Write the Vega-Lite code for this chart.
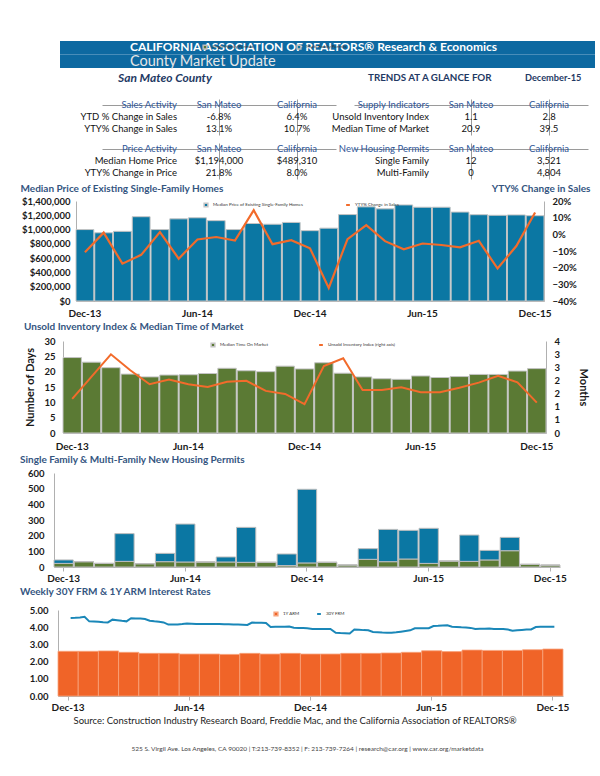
{
  "$schema": "https://vega.github.io/schema/vega-lite/v6.json",
  "padding": {"left": 20, "top": 40, "right": 0, "bottom": 0},
  "background": "white",
  "title": {"text": "525 S. Virgil Ave. Los Angeles, CA 90020 | T:213-739-8352 | F: 213-739-7264 | research@car.org | www.car.org/marketdata", "orient": "bottom", "anchor": "middle", "fontSize": 6.5, "fontWeight": "normal", "color": "#444", "offset": 21},
  "config": {
    "font": "Lato",
    "view": {"stroke": null},
    "axis": {"labelFontSize": 9.5, "labelFontWeight": "bold", "labelColor": "#1a1a1a", "domainColor": "#b0b0b0", "tickColor": "#b0b0b0", "grid": false, "ticks": false, "labelOverlap": false},
    "axisX": {"labelAngle": 0},
    "legend": {"labelFontSize": 4.5, "labelColor": "#333", "symbolSize": 14, "title": null}
  },
  "datasets": {
    "header": [
      {"line": "org", "item": "org", "text": "CALIFORNIA ASSOCIATION OF REALTORS® Research & Economics"},
      {"line": "product", "item": "product", "text": "County Market Update"},
      {"line": "sub", "item": "county", "text": "San Mateo  County"},
      {"line": "sub", "item": "trends", "text": "TRENDS AT A GLANCE FOR"},
      {"line": "sub", "item": "date", "text": "December-15"}
    ],
    "tables": [
      {"table": "sales", "row": "h", "col": "label", "text": "Sales Activity"},
      {"table": "sales", "row": "h", "col": "San Mateo", "text": "San Mateo"},
      {"table": "sales", "row": "h", "col": "California", "text": "California"},
      {"table": "sales", "row": "r1", "col": "label", "text": "YTD % Change in Sales"},
      {"table": "sales", "row": "r1", "col": "San Mateo", "text": "-6.8%"},
      {"table": "sales", "row": "r1", "col": "California", "text": "6.4%"},
      {"table": "sales", "row": "r2", "col": "label", "text": "YTY% Change in Sales"},
      {"table": "sales", "row": "r2", "col": "San Mateo", "text": "13.1%"},
      {"table": "sales", "row": "r2", "col": "California", "text": "10.7%"},
      {"table": "price", "row": "h", "col": "label", "text": "Price Activity"},
      {"table": "price", "row": "h", "col": "San Mateo", "text": "San Mateo"},
      {"table": "price", "row": "h", "col": "California", "text": "California"},
      {"table": "price", "row": "r1", "col": "label", "text": "Median Home Price"},
      {"table": "price", "row": "r1", "col": "San Mateo", "text": "$1,194,000"},
      {"table": "price", "row": "r1", "col": "California", "text": "$489,310"},
      {"table": "price", "row": "r2", "col": "label", "text": "YTY% Change in Price"},
      {"table": "price", "row": "r2", "col": "San Mateo", "text": "21.8%"},
      {"table": "price", "row": "r2", "col": "California", "text": "8.0%"},
      {"table": "supply", "row": "h", "col": "label", "text": "Supply Indicators"},
      {"table": "supply", "row": "h", "col": "San Mateo", "text": "San Mateo"},
      {"table": "supply", "row": "h", "col": "California", "text": "California"},
      {"table": "supply", "row": "r1", "col": "label", "text": "Unsold Inventory Index"},
      {"table": "supply", "row": "r1", "col": "San Mateo", "text": "1.1"},
      {"table": "supply", "row": "r1", "col": "California", "text": "2.8"},
      {"table": "supply", "row": "r2", "col": "label", "text": "Median Time of Market"},
      {"table": "supply", "row": "r2", "col": "San Mateo", "text": "20.9"},
      {"table": "supply", "row": "r2", "col": "California", "text": "39.5"},
      {"table": "permits", "row": "h", "col": "label", "text": "New Housing Permits"},
      {"table": "permits", "row": "h", "col": "San Mateo", "text": "San Mateo"},
      {"table": "permits", "row": "h", "col": "California", "text": "California"},
      {"table": "permits", "row": "r1", "col": "label", "text": "Single Family"},
      {"table": "permits", "row": "r1", "col": "San Mateo", "text": "12"},
      {"table": "permits", "row": "r1", "col": "California", "text": "3,521"},
      {"table": "permits", "row": "r2", "col": "label", "text": "Multi-Family"},
      {"table": "permits", "row": "r2", "col": "San Mateo", "text": "0"},
      {"table": "permits", "row": "r2", "col": "California", "text": "4,804"}
    ],
    "price": [
      {"month": "Dec-13", "price": 1000000, "yty": -0.107},
      {"month": "Jan-14", "price": 955000, "yty": 0.01},
      {"month": "Feb-14", "price": 975000, "yty": -0.176},
      {"month": "Mar-14", "price": 1180000, "yty": -0.123},
      {"month": "Apr-14", "price": 1000000, "yty": 0.014},
      {"month": "May-14", "price": 1150000, "yty": -0.146},
      {"month": "Jun-14", "price": 1165000, "yty": -0.031},
      {"month": "Jul-14", "price": 1125000, "yty": -0.016},
      {"month": "Aug-14", "price": 1000000, "yty": -0.037},
      {"month": "Sep-14", "price": 1085000, "yty": 0.145},
      {"month": "Oct-14", "price": 1075000, "yty": -0.059},
      {"month": "Nov-14", "price": 1100000, "yty": -0.035},
      {"month": "Dec-14", "price": 985000, "yty": -0.084},
      {"month": "Jan-15", "price": 1020000, "yty": -0.322},
      {"month": "Feb-15", "price": 1210000, "yty": -0.029},
      {"month": "Mar-15", "price": 1318000, "yty": 0.055},
      {"month": "Apr-15", "price": 1290000, "yty": -0.041},
      {"month": "May-15", "price": 1345000, "yty": -0.09},
      {"month": "Jun-15", "price": 1313000, "yty": -0.055},
      {"month": "Jul-15", "price": 1313000, "yty": -0.064},
      {"month": "Aug-15", "price": 1245000, "yty": -0.078},
      {"month": "Sep-15", "price": 1208000, "yty": -0.039},
      {"month": "Oct-15", "price": 1200000, "yty": -0.205},
      {"month": "Nov-15", "price": 1205000, "yty": -0.07},
      {"month": "Dec-15", "price": 1194000, "yty": 0.131}
    ],
    "market": [
      {"month": "Dec-13", "days": 24.6, "uii": 1.48},
      {"month": "Jan-14", "days": 23.1, "uii": 2.45},
      {"month": "Feb-14", "days": 21.3, "uii": 3.42},
      {"month": "Mar-14", "days": 19.2, "uii": 2.73},
      {"month": "Apr-14", "days": 18.3, "uii": 2.12},
      {"month": "May-14", "days": 18.9, "uii": 2.33},
      {"month": "Jun-14", "days": 19.0, "uii": 2.12},
      {"month": "Jul-14", "days": 19.4, "uii": 2.0},
      {"month": "Aug-14", "days": 21.1, "uii": 2.23},
      {"month": "Sep-14", "days": 20.3, "uii": 2.27},
      {"month": "Oct-14", "days": 20.0, "uii": 1.83},
      {"month": "Nov-14", "days": 21.8, "uii": 1.7},
      {"month": "Dec-14", "days": 20.9, "uii": 1.25},
      {"month": "Jan-15", "days": 22.9, "uii": 2.91},
      {"month": "Feb-15", "days": 19.5, "uii": 3.25},
      {"month": "Mar-15", "days": 18.3, "uii": 1.87},
      {"month": "Apr-15", "days": 17.7, "uii": 1.87},
      {"month": "May-15", "days": 17.5, "uii": 1.99},
      {"month": "Jun-15", "days": 18.6, "uii": 1.77},
      {"month": "Jul-15", "days": 18.1, "uii": 1.77},
      {"month": "Aug-15", "days": 18.4, "uii": 1.97},
      {"month": "Sep-15", "days": 19.1, "uii": 2.19},
      {"month": "Oct-15", "days": 19.1, "uii": 2.49},
      {"month": "Nov-15", "days": 20.2, "uii": 2.2},
      {"month": "Dec-15", "days": 21.0, "uii": 1.32}
    ],
    "permits": [
      {"month": "Dec-13", "type": "Single Family Permits", "permits": 23}, {"month": "Dec-13", "type": "Multi-Family Permits", "permits": 22},
      {"month": "Jan-14", "type": "Single Family Permits", "permits": 34}, {"month": "Jan-14", "type": "Multi-Family Permits", "permits": 0},
      {"month": "Feb-14", "type": "Single Family Permits", "permits": 23}, {"month": "Feb-14", "type": "Multi-Family Permits", "permits": 0},
      {"month": "Mar-14", "type": "Single Family Permits", "permits": 36}, {"month": "Mar-14", "type": "Multi-Family Permits", "permits": 177},
      {"month": "Apr-14", "type": "Single Family Permits", "permits": 21}, {"month": "Apr-14", "type": "Multi-Family Permits", "permits": 0},
      {"month": "May-14", "type": "Single Family Permits", "permits": 34}, {"month": "May-14", "type": "Multi-Family Permits", "permits": 53},
      {"month": "Jun-14", "type": "Single Family Permits", "permits": 32}, {"month": "Jun-14", "type": "Multi-Family Permits", "permits": 242},
      {"month": "Jul-14", "type": "Single Family Permits", "permits": 32}, {"month": "Jul-14", "type": "Multi-Family Permits", "permits": 0},
      {"month": "Aug-14", "type": "Single Family Permits", "permits": 32}, {"month": "Aug-14", "type": "Multi-Family Permits", "permits": 32},
      {"month": "Sep-14", "type": "Single Family Permits", "permits": 30}, {"month": "Sep-14", "type": "Multi-Family Permits", "permits": 223},
      {"month": "Oct-14", "type": "Single Family Permits", "permits": 30}, {"month": "Oct-14", "type": "Multi-Family Permits", "permits": 0},
      {"month": "Nov-14", "type": "Single Family Permits", "permits": 9}, {"month": "Nov-14", "type": "Multi-Family Permits", "permits": 74},
      {"month": "Dec-14", "type": "Single Family Permits", "permits": 26}, {"month": "Dec-14", "type": "Multi-Family Permits", "permits": 470},
      {"month": "Jan-15", "type": "Single Family Permits", "permits": 30}, {"month": "Jan-15", "type": "Multi-Family Permits", "permits": 0},
      {"month": "Feb-15", "type": "Single Family Permits", "permits": 13}, {"month": "Feb-15", "type": "Multi-Family Permits", "permits": 0},
      {"month": "Mar-15", "type": "Single Family Permits", "permits": 49}, {"month": "Mar-15", "type": "Multi-Family Permits", "permits": 68},
      {"month": "Apr-15", "type": "Single Family Permits", "permits": 34}, {"month": "Apr-15", "type": "Multi-Family Permits", "permits": 206},
      {"month": "May-15", "type": "Single Family Permits", "permits": 51}, {"month": "May-15", "type": "Multi-Family Permits", "permits": 183},
      {"month": "Jun-15", "type": "Single Family Permits", "permits": 23}, {"month": "Jun-15", "type": "Multi-Family Permits", "permits": 224},
      {"month": "Jul-15", "type": "Single Family Permits", "permits": 38}, {"month": "Jul-15", "type": "Multi-Family Permits", "permits": 0},
      {"month": "Aug-15", "type": "Single Family Permits", "permits": 36}, {"month": "Aug-15", "type": "Multi-Family Permits", "permits": 168},
      {"month": "Sep-15", "type": "Single Family Permits", "permits": 45}, {"month": "Sep-15", "type": "Multi-Family Permits", "permits": 61},
      {"month": "Oct-15", "type": "Single Family Permits", "permits": 104}, {"month": "Oct-15", "type": "Multi-Family Permits", "permits": 85},
      {"month": "Nov-15", "type": "Single Family Permits", "permits": 17}, {"month": "Nov-15", "type": "Multi-Family Permits", "permits": 0},
      {"month": "Dec-15", "type": "Single Family Permits", "permits": 12}, {"month": "Dec-15", "type": "Multi-Family Permits", "permits": 0}
    ],
    "arm": [
      {"month": "Dec-13", "arm": 2.60}, {"month": "Jan-14", "arm": 2.60}, {"month": "Feb-14", "arm": 2.62},
      {"month": "Mar-14", "arm": 2.54}, {"month": "Apr-14", "arm": 2.48}, {"month": "May-14", "arm": 2.48},
      {"month": "Jun-14", "arm": 2.44}, {"month": "Jul-14", "arm": 2.44}, {"month": "Aug-14", "arm": 2.42},
      {"month": "Sep-14", "arm": 2.48}, {"month": "Oct-14", "arm": 2.44}, {"month": "Nov-14", "arm": 2.48},
      {"month": "Dec-14", "arm": 2.44}, {"month": "Jan-15", "arm": 2.44}, {"month": "Feb-15", "arm": 2.48},
      {"month": "Mar-15", "arm": 2.48}, {"month": "Apr-15", "arm": 2.50}, {"month": "May-15", "arm": 2.54},
      {"month": "Jun-15", "arm": 2.63}, {"month": "Jul-15", "arm": 2.58}, {"month": "Aug-15", "arm": 2.67},
      {"month": "Sep-15", "arm": 2.65}, {"month": "Oct-15", "arm": 2.65}, {"month": "Nov-15", "arm": 2.69},
      {"month": "Dec-15", "arm": 2.73}
    ],
    "frm": [
      {"date": "2013-12-05", "frm": 4.54}, {"date": "2013-12-12", "frm": 4.55}, {"date": "2013-12-19", "frm": 4.57}, {"date": "2013-12-26", "frm": 4.60},
      {"date": "2014-01-02", "frm": 4.34}, {"date": "2014-01-09", "frm": 4.33}, {"date": "2014-01-16", "frm": 4.31}, {"date": "2014-01-23", "frm": 4.29}, {"date": "2014-01-30", "frm": 4.28},
      {"date": "2014-02-06", "frm": 4.44}, {"date": "2014-02-13", "frm": 4.41}, {"date": "2014-02-20", "frm": 4.37}, {"date": "2014-02-27", "frm": 4.34},
      {"date": "2014-03-06", "frm": 4.52}, {"date": "2014-03-13", "frm": 4.51}, {"date": "2014-03-20", "frm": 4.50}, {"date": "2014-03-27", "frm": 4.48},
      {"date": "2014-04-03", "frm": 4.38}, {"date": "2014-04-10", "frm": 4.34}, {"date": "2014-04-17", "frm": 4.31}, {"date": "2014-04-24", "frm": 4.28},
      {"date": "2014-05-01", "frm": 4.15}, {"date": "2014-05-08", "frm": 4.15}, {"date": "2014-05-15", "frm": 4.16}, {"date": "2014-05-22", "frm": 4.18}, {"date": "2014-05-29", "frm": 4.21},
      {"date": "2014-06-05", "frm": 4.20}, {"date": "2014-06-12", "frm": 4.19}, {"date": "2014-06-19", "frm": 4.19}, {"date": "2014-06-26", "frm": 4.19},
      {"date": "2014-07-03", "frm": 4.19}, {"date": "2014-07-10", "frm": 4.18}, {"date": "2014-07-17", "frm": 4.18}, {"date": "2014-07-24", "frm": 4.17}, {"date": "2014-07-31", "frm": 4.17},
      {"date": "2014-08-07", "frm": 4.16}, {"date": "2014-08-14", "frm": 4.15}, {"date": "2014-08-21", "frm": 4.14}, {"date": "2014-08-28", "frm": 4.13},
      {"date": "2014-09-04", "frm": 4.27}, {"date": "2014-09-11", "frm": 4.26}, {"date": "2014-09-18", "frm": 4.26}, {"date": "2014-09-25", "frm": 4.25},
      {"date": "2014-10-02", "frm": 4.01}, {"date": "2014-10-09", "frm": 4.02}, {"date": "2014-10-16", "frm": 4.02}, {"date": "2014-10-23", "frm": 4.03}, {"date": "2014-10-30", "frm": 4.04},
      {"date": "2014-11-06", "frm": 3.97}, {"date": "2014-11-13", "frm": 3.96}, {"date": "2014-11-20", "frm": 3.95}, {"date": "2014-11-26", "frm": 3.94},
      {"date": "2014-12-04", "frm": 3.90}, {"date": "2014-12-11", "frm": 3.90}, {"date": "2014-12-18", "frm": 3.90}, {"date": "2014-12-24", "frm": 3.90}, {"date": "2014-12-31", "frm": 3.90},
      {"date": "2015-01-08", "frm": 3.68}, {"date": "2015-01-15", "frm": 3.66}, {"date": "2015-01-22", "frm": 3.65}, {"date": "2015-01-29", "frm": 3.63},
      {"date": "2015-02-05", "frm": 3.86}, {"date": "2015-02-12", "frm": 3.85}, {"date": "2015-02-19", "frm": 3.83}, {"date": "2015-02-26", "frm": 3.82},
      {"date": "2015-03-05", "frm": 3.72}, {"date": "2015-03-12", "frm": 3.71}, {"date": "2015-03-19", "frm": 3.69}, {"date": "2015-03-26", "frm": 3.68},
      {"date": "2015-04-02", "frm": 3.68}, {"date": "2015-04-09", "frm": 3.70}, {"date": "2015-04-16", "frm": 3.74}, {"date": "2015-04-23", "frm": 3.78}, {"date": "2015-04-30", "frm": 3.82},
      {"date": "2015-05-07", "frm": 3.94}, {"date": "2015-05-14", "frm": 3.94}, {"date": "2015-05-21", "frm": 3.94}, {"date": "2015-05-28", "frm": 3.94},
      {"date": "2015-06-04", "frm": 4.07}, {"date": "2015-06-11", "frm": 4.08}, {"date": "2015-06-18", "frm": 4.10}, {"date": "2015-06-25", "frm": 4.11},
      {"date": "2015-07-02", "frm": 4.03}, {"date": "2015-07-09", "frm": 4.01}, {"date": "2015-07-16", "frm": 3.99}, {"date": "2015-07-23", "frm": 3.98}, {"date": "2015-07-30", "frm": 3.96},
      {"date": "2015-08-06", "frm": 3.90}, {"date": "2015-08-13", "frm": 3.91}, {"date": "2015-08-20", "frm": 3.91}, {"date": "2015-08-27", "frm": 3.92},
      {"date": "2015-09-03", "frm": 3.90}, {"date": "2015-09-10", "frm": 3.90}, {"date": "2015-09-17", "frm": 3.90}, {"date": "2015-09-24", "frm": 3.86},
      {"date": "2015-10-01", "frm": 3.80}, {"date": "2015-10-08", "frm": 3.82}, {"date": "2015-10-15", "frm": 3.84}, {"date": "2015-10-22", "frm": 3.86}, {"date": "2015-10-29", "frm": 3.87},
      {"date": "2015-11-05", "frm": 4.01}, {"date": "2015-11-12", "frm": 4.02}, {"date": "2015-11-19", "frm": 4.02}, {"date": "2015-11-25", "frm": 4.03},
      {"date": "2015-12-03", "frm": 4.03}
    ]
  },
  "spacing": 4,
  "vconcat": [
    {
      "bounds": "flush",
      "spacing": 0,
      "hconcat": [
        {"width": 40, "height": 1, "data": {"values": [{}]}, "mark": {"type": "rect", "opacity": 0}},
        {
          "width": 535,
          "height": 54,
          "data": {"name": "header"},
          "encoding": {
            "y": {"field": "line", "type": "nominal", "scale": {"domain": ["org", "product", "sub", "blank"], "paddingInner": 0, "paddingOuter": 0}, "axis": null}
          },
          "layer": [
            {"transform": [{"filter": "datum.line === 'org' || datum.line === 'product'"}], "mark": {"type": "rect", "color": "#0d69a1"}},
            {"transform": [{"filter": "datum.item === 'org'"}], "mark": {"type": "text", "align": "left", "dx": -197.5, "dy": -1, "color": "white", "fontSize": 12, "fontWeight": "bold"}, "encoding": {"text": {"field": "text"}}},
            {"transform": [{"filter": "datum.item === 'product'"}], "mark": {"type": "text", "align": "left", "dx": -197.5, "dy": 1.2, "color": "#e6e6e6", "fontSize": 14.5}, "encoding": {"text": {"field": "text"}}},
            {"transform": [{"filter": "datum.item === 'county'"}], "mark": {"type": "text", "align": "left", "dx": -209.5, "dy": 3, "color": "#1f3a64", "fontSize": 12, "fontWeight": "bold", "fontStyle": "italic"}, "encoding": {"text": {"field": "text"}}},
            {"transform": [{"filter": "datum.item === 'trends'"}], "mark": {"type": "text", "align": "left", "dx": 40.5, "dy": 3, "color": "#1f3a64", "fontSize": 9.8, "fontWeight": "bold"}, "encoding": {"text": {"field": "text"}}},
            {"transform": [{"filter": "datum.item === 'date'"}], "mark": {"type": "text", "align": "left", "dx": 197.5, "dy": 3, "color": "#1f3a64", "fontSize": 9.2, "fontWeight": "bold"}, "encoding": {"text": {"field": "text"}}}
          ]
        }
      ]
    },
    {
      "bounds": "flush",
      "spacing": 0,
      "hconcat": [
        {"width": 82, "height": 1, "data": {"values": [{}]}, "mark": {"type": "rect", "opacity": 0}},
        {
          "spacing": 8,
          "vconcat": [
            {
              "bounds": "flush",
              "spacing": 18,
              "hconcat": [
                {
                  "width": 234, "height": 36,
                  "data": {"name": "tables"},
                  "transform": [{"filter": "datum.table === 'sales'"}],
                  "encoding": {
                    "x": {"field": "col", "type": "nominal", "scale": {"domain": ["label", "San Mateo", "California"], "paddingInner": 0, "paddingOuter": 0}, "axis": {"values": ["San Mateo", "California"], "bandPosition": 0, "grid": true, "gridColor": "#9a9a9a", "labels": false, "ticks": false, "domain": false, "title": null}},
                    "y": {"field": "row", "type": "nominal", "scale": {"domain": ["h", "r1", "r2"], "paddingInner": 0, "paddingOuter": 0}, "axis": {"values": ["h"], "bandPosition": 1, "grid": true, "gridColor": "#9a9a9a", "labels": false, "ticks": false, "domain": false, "title": null, "minExtent": 0, "maxExtent": 0}},
                    "text": {"field": "text"},
                    "color": {"condition": {"test": "datum.row === 'h'", "value": "#2e5597"}, "value": "#111111"}
                  },
                  "layer": [
                    {"transform": [{"filter": "datum.col === 'label'"}], "mark": {"type": "text", "align": "right", "dx": 36, "fontSize": 9.5}},
                    {"transform": [{"filter": "datum.col !== 'label'"}], "mark": {"type": "text", "align": "center", "fontSize": 9.5}}
                  ]
                },
                {
                  "width": 234, "height": 36,
                  "data": {"name": "tables"},
                  "transform": [{"filter": "datum.table === 'supply'"}],
                  "encoding": {
                    "x": {"field": "col", "type": "nominal", "scale": {"domain": ["label", "San Mateo", "California"], "paddingInner": 0, "paddingOuter": 0}, "axis": {"values": ["San Mateo", "California"], "bandPosition": 0, "grid": true, "gridColor": "#9a9a9a", "labels": false, "ticks": false, "domain": false, "title": null}},
                    "y": {"field": "row", "type": "nominal", "scale": {"domain": ["h", "r1", "r2"], "paddingInner": 0, "paddingOuter": 0}, "axis": {"values": ["h"], "bandPosition": 1, "grid": true, "gridColor": "#9a9a9a", "labels": false, "ticks": false, "domain": false, "title": null, "minExtent": 0, "maxExtent": 0}},
                    "text": {"field": "text"},
                    "color": {"condition": {"test": "datum.row === 'h'", "value": "#2e5597"}, "value": "#111111"}
                  },
                  "layer": [
                    {"transform": [{"filter": "datum.col === 'label'"}], "mark": {"type": "text", "align": "right", "dx": 36, "fontSize": 9.5}},
                    {"transform": [{"filter": "datum.col !== 'label'"}], "mark": {"type": "text", "align": "center", "fontSize": 9.5}}
                  ]
                }
              ]
            },
            {
              "bounds": "flush",
              "spacing": 18,
              "hconcat": [
                {
                  "width": 234, "height": 36,
                  "data": {"name": "tables"},
                  "transform": [{"filter": "datum.table === 'price'"}],
                  "encoding": {
                    "x": {"field": "col", "type": "nominal", "scale": {"domain": ["label", "San Mateo", "California"], "paddingInner": 0, "paddingOuter": 0}, "axis": {"values": ["San Mateo", "California"], "bandPosition": 0, "grid": true, "gridColor": "#9a9a9a", "labels": false, "ticks": false, "domain": false, "title": null}},
                    "y": {"field": "row", "type": "nominal", "scale": {"domain": ["h", "r1", "r2"], "paddingInner": 0, "paddingOuter": 0}, "axis": {"values": ["h"], "bandPosition": 1, "grid": true, "gridColor": "#9a9a9a", "labels": false, "ticks": false, "domain": false, "title": null, "minExtent": 0, "maxExtent": 0}},
                    "text": {"field": "text"},
                    "color": {"condition": {"test": "datum.row === 'h'", "value": "#2e5597"}, "value": "#111111"}
                  },
                  "layer": [
                    {"transform": [{"filter": "datum.col === 'label'"}], "mark": {"type": "text", "align": "right", "dx": 36, "fontSize": 9.5}},
                    {"transform": [{"filter": "datum.col !== 'label'"}], "mark": {"type": "text", "align": "center", "fontSize": 9.5}}
                  ]
                },
                {
                  "width": 234, "height": 36,
                  "data": {"name": "tables"},
                  "transform": [{"filter": "datum.table === 'permits'"}],
                  "encoding": {
                    "x": {"field": "col", "type": "nominal", "scale": {"domain": ["label", "San Mateo", "California"], "paddingInner": 0, "paddingOuter": 0}, "axis": {"values": ["San Mateo", "California"], "bandPosition": 0, "grid": true, "gridColor": "#9a9a9a", "labels": false, "ticks": false, "domain": false, "title": null}},
                    "y": {"field": "row", "type": "nominal", "scale": {"domain": ["h", "r1", "r2"], "paddingInner": 0, "paddingOuter": 0}, "axis": {"values": ["h"], "bandPosition": 1, "grid": true, "gridColor": "#9a9a9a", "labels": false, "ticks": false, "domain": false, "title": null, "minExtent": 0, "maxExtent": 0}},
                    "text": {"field": "text"},
                    "color": {"condition": {"test": "datum.row === 'h'", "value": "#2e5597"}, "value": "#111111"}
                  },
                  "layer": [
                    {"transform": [{"filter": "datum.col === 'label'"}], "mark": {"type": "text", "align": "right", "dx": 36, "fontSize": 9.5}},
                    {"transform": [{"filter": "datum.col !== 'label'"}], "mark": {"type": "text", "align": "center", "fontSize": 9.5}}
                  ]
                }
              ]
            }
          ]
        }
      ]
    },
    {
      "bounds": "flush",
      "spacing": 0,
      "hconcat": [
        {"width": 56, "height": 1, "data": {"values": [{}]}, "mark": {"type": "rect", "opacity": 0}},
        {
          "width": 468,
          "height": 100,
          "data": {"name": "price"},
          "encoding": {
            "x": {"field": "month", "type": "nominal", "scale": {"domain": ["Dec-13","Jan-14","Feb-14","Mar-14","Apr-14","May-14","Jun-14","Jul-14","Aug-14","Sep-14","Oct-14","Nov-14","Dec-14","Jan-15","Feb-15","Mar-15","Apr-15","May-15","Jun-15","Jul-15","Aug-15","Sep-15","Oct-15","Nov-15","Dec-15"], "paddingInner": 0.05, "paddingOuter": 0}, "axis": {"values": ["Dec-13","Jun-14","Dec-14","Jun-15","Dec-15"], "title": null, "ticks": false, "labelPadding": 7, "labelFontSize": 10}}
          },
          "layer": [
            {
              "mark": {"type": "bar", "stroke": "#c4c4c4", "strokeWidth": 1},
              "encoding": {
                "y": {"field": "price", "type": "quantitative", "scale": {"domain": [0, 1400000]}, "axis": {"values": [0, 200000, 400000, 600000, 800000, 1000000, 1200000, 1400000], "format": "$,.0f", "labelPadding": 6, "minExtent": 56, "maxExtent": 56, "title": "Median Price of Existing Single-Family Homes", "titleX": -56, "titleY": -13, "titleAngle": 0, "titleAlign": "left", "titleBaseline": "middle", "titleFontSize": 10, "titleFontWeight": "bold", "titleColor": "#34557f"}},
                "fill": {"datum": "Median Price of Existing Single-Family Homes", "type": "nominal", "scale": {"range": ["#0b77a3"]}, "legend": {"orient": "none", "legendX": 127, "legendY": 1, "symbolType": "square"}}
              }
            },
            {
              "mark": {"type": "line", "strokeWidth": 2.2},
              "encoding": {
                "y": {"field": "yty", "type": "quantitative", "scale": {"domain": [-0.4, 0.2]}, "axis": {"orient": "right", "values": [-0.4, -0.3, -0.2, -0.1, 0, 0.1, 0.2], "format": ".0%", "labelPadding": 8, "title": "YTY% Change in Sales", "titleX": 46, "titleY": -13, "titleAngle": 0, "titleAlign": "right", "titleBaseline": "middle", "titleFontSize": 10, "titleFontWeight": "bold", "titleColor": "#34557f"}},
                "stroke": {"datum": "YTY% Change in Sales", "type": "nominal", "scale": {"range": ["#f26b2b"]}, "legend": {"orient": "none", "legendX": 269, "legendY": 1, "symbolType": "stroke", "symbolStrokeWidth": 2}}
              }
            }
          ],
          "resolve": {"scale": {"y": "independent", "fill": "independent", "stroke": "independent"}}
        }
      ]
    },
    {
      "bounds": "flush",
      "spacing": 0,
      "hconcat": [
        {"width": 43, "height": 1, "data": {"values": [{}]}, "mark": {"type": "rect", "opacity": 0}},
        {
          "width": 483,
          "height": 92,
          "title": {"text": "Unsold Inventory Index & Median Time of Market", "anchor": "start", "fontSize": 10, "fontWeight": "bold", "color": "#34557f", "offset": 4},
          "data": {"name": "market"},
          "encoding": {
            "x": {"field": "month", "type": "nominal", "scale": {"domain": ["Dec-13","Jan-14","Feb-14","Mar-14","Apr-14","May-14","Jun-14","Jul-14","Aug-14","Sep-14","Oct-14","Nov-14","Dec-14","Jan-15","Feb-15","Mar-15","Apr-15","May-15","Jun-15","Jul-15","Aug-15","Sep-15","Oct-15","Nov-15","Dec-15"], "paddingInner": 0.05, "paddingOuter": 0}, "axis": {"values": ["Dec-13","Jun-14","Dec-14","Jun-15","Dec-15"], "title": null, "ticks": false, "labelPadding": 8, "labelFontSize": 10}}
          },
          "layer": [
            {
              "mark": {"type": "bar", "stroke": "#c4c4c4", "strokeWidth": 1},
              "encoding": {
                "y": {"field": "days", "type": "quantitative", "scale": {"domain": [0, 30]}, "axis": {"values": [0, 5, 10, 15, 20, 25, 30], "labelPadding": 8, "minExtent": 22, "maxExtent": 22, "title": "Number of Days", "titleFontSize": 11, "titleFontWeight": "bold", "titleColor": "#1a1a1a", "titlePadding": 6}},
                "fill": {"datum": "Median Time On Market", "type": "nominal", "scale": {"range": ["#5b7a34"]}, "legend": {"orient": "none", "legendX": 147, "legendY": 1, "symbolType": "square"}}
              }
            },
            {
              "mark": {"type": "line", "strokeWidth": 2},
              "encoding": {
                "y": {"field": "uii", "type": "quantitative", "scale": {"domain": [0, 4]}, "axis": {"orient": "right", "values": [0, 0.5714, 1.1429, 1.7143, 2.2857, 2.8571, 3.4286, 4], "format": ".0f", "labelPadding": 8, "title": "Months", "titleFontSize": 11, "titleFontWeight": "bold", "titleColor": "#1a1a1a", "titlePadding": 18}},
                "stroke": {"datum": "Unsold Inventory Index (right axis)", "type": "nominal", "scale": {"range": ["#f26b2b"]}, "legend": {"orient": "none", "legendX": 255, "legendY": 1, "symbolType": "stroke", "symbolStrokeWidth": 2}}
              }
            }
          ],
          "resolve": {"scale": {"y": "independent", "fill": "independent", "stroke": "independent"}}
        }
      ]
    },
    {
      "bounds": "flush",
      "spacing": 0,
      "hconcat": [
        {"width": 34, "height": 1, "data": {"values": [{}]}, "mark": {"type": "rect", "opacity": 0}},
        {
          "width": 506,
          "height": 94,
          "title": {"text": "Single Family & Multi-Family New Housing Permits", "anchor": "start", "fontSize": 10, "fontWeight": "bold", "color": "#34557f", "offset": 3},
          "data": {"name": "permits"},
          "mark": {"type": "bar", "stroke": "#bdbdbd", "strokeWidth": 1},
          "encoding": {
            "x": {"field": "month", "type": "nominal", "scale": {"domain": ["Dec-13","Jan-14","Feb-14","Mar-14","Apr-14","May-14","Jun-14","Jul-14","Aug-14","Sep-14","Oct-14","Nov-14","Dec-14","Jan-15","Feb-15","Mar-15","Apr-15","May-15","Jun-15","Jul-15","Aug-15","Sep-15","Oct-15","Nov-15","Dec-15"], "paddingInner": 0.05, "paddingOuter": 0}, "axis": {"values": ["Dec-13","Jun-14","Dec-14","Jun-15","Dec-15"], "title": null, "ticks": true, "tickSize": 4, "labelPadding": 2, "labelFontSize": 10}},
            "y": {"field": "permits", "type": "quantitative", "scale": {"domain": [0, 600]}, "axis": {"values": [0, 100, 200, 300, 400, 500, 600], "labelPadding": 10, "minExtent": 34, "maxExtent": 34, "title": null}},
            "color": {"field": "type", "type": "nominal", "scale": {"domain": ["Single Family Permits", "Multi-Family Permits"], "range": ["#5b7a34", "#0b77a3"]}, "legend": {"orient": "none", "legendX": 182, "legendY": 3, "direction": "horizontal", "symbolType": "square", "columnPadding": 40}},
            "order": {"field": "type", "type": "nominal", "sort": "descending"}
          }
        }
      ]
    },
    {
      "bounds": "flush",
      "spacing": 0,
      "hconcat": [
        {"width": 38, "height": 1, "data": {"values": [{}]}, "mark": {"type": "rect", "opacity": 0}},
        {
          "width": 505,
          "height": 86,
          "title": {"text": "Weekly 30Y FRM & 1Y ARM Interest Rates", "anchor": "start", "fontSize": 10, "fontWeight": "bold", "color": "#34557f", "offset": 8},
          "layer": [
            {
              "data": {"name": "arm"},
              "mark": {"type": "bar", "stroke": "#f7a37c", "strokeWidth": 0.8},
              "encoding": {
                "x": {"field": "month", "type": "nominal", "scale": {"domain": ["Dec-13","Jan-14","Feb-14","Mar-14","Apr-14","May-14","Jun-14","Jul-14","Aug-14","Sep-14","Oct-14","Nov-14","Dec-14","Jan-15","Feb-15","Mar-15","Apr-15","May-15","Jun-15","Jul-15","Aug-15","Sep-15","Oct-15","Nov-15","Dec-15"], "paddingInner": 0, "paddingOuter": 0}, "axis": {"values": ["Dec-13","Jun-14","Dec-14","Jun-15","Dec-15"], "ticks": true, "tickSize": 4, "labelPadding": 2, "labelFontSize": 10, "title": "Source: Construction Industry Research Board, Freddie Mac, and the California Association of REALTORS®", "titleX": 15, "titleY": 24, "titleAlign": "left", "titleAnchor": "start", "titleBaseline": "middle", "titleFontSize": 9.5, "titleFontWeight": "normal", "titleColor": "#222"}},
                "y": {"field": "arm", "type": "quantitative", "scale": {"domain": [0, 5]}, "axis": {"values": [0, 1, 2, 3, 4, 5], "format": ".2f", "labelPadding": 10, "minExtent": 38, "maxExtent": 38, "title": null}},
                "fill": {"datum": "1Y ARM", "type": "nominal", "scale": {"range": ["#f06428"]}, "legend": {"orient": "none", "legendX": 215, "legendY": 1, "symbolType": "square"}}
              }
            },
            {
              "data": {"name": "frm"},
              "mark": {"type": "line", "strokeWidth": 2},
              "encoding": {
                "x": {"field": "date", "type": "temporal", "scale": {"domain": [{"year": 2013, "month": 11, "date": 16}, {"year": 2015, "month": 12, "date": 16}], "nice": false}, "axis": null},
                "y": {"field": "frm", "type": "quantitative", "axis": {"values": [0, 1, 2, 3, 4, 5], "format": ".2f", "labelPadding": 10, "minExtent": 38, "maxExtent": 38, "title": null}},
                "stroke": {"datum": "30Y FRM", "type": "nominal", "scale": {"range": ["#1a87b8"]}, "legend": {"orient": "none", "legendX": 258, "legendY": 1, "symbolType": "stroke", "symbolStrokeWidth": 2}}
              }
            }
          ],
          "resolve": {"scale": {"x": "independent", "fill": "independent", "stroke": "independent"}}
        }
      ]
    }
  ]
}
